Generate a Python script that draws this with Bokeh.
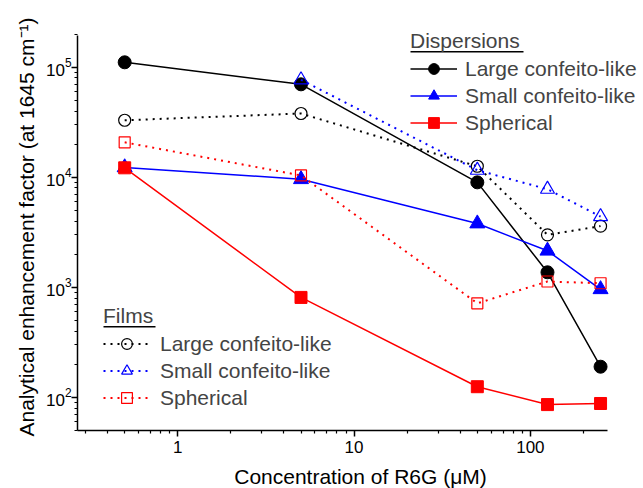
from bokeh.plotting import figure
from bokeh.models import (Legend, LegendItem, BoxAnnotation, FixedTicker,
                          LogTickFormatter, BasicTickFormatter)
from bokeh.embed import file_html
from bokeh.resources import INLINE

# ---- data ----
conc = [0.5, 5, 50, 125, 250]
conc_small_film = [5, 50, 125, 250]

disp_large = [111000, 70000, 9000, 1370, 190]
disp_small = [12300, 9600, 3800, 2150, 960]
disp_spherical = [12200, 810, 125, 86, 88]

film_large = [33000, 38000, 12600, 3000, 3600]
film_small = [77000, 11600, 7800, 4400]
film_spherical = [20800, 10400, 716, 1130, 1090]

x_major = [1, 10, 100]
y_major = [1e2, 1e3, 1e4, 1e5]

FONT = "Liberation Sans"
BLACK, BLUE, RED = "#000000", "#0000FF", "#FF0000"

p = figure(frame_width=566, frame_height=407, x_axis_type="log", y_axis_type="log",
           x_range=(0.27, 438), y_range=(50, 2.5e5),
           output_backend="svg", toolbar_location=None,
           min_border_left=77, min_border_right=0, min_border_top=23,
           min_border_bottom=58)
p.outline_line_color = None
p.xgrid.visible = False
p.ygrid.visible = False
p.background_fill_color = "white"

x_minor = [m * d for d in [0.1, 1, 10, 100] for m in range(2, 10) if m * d <= 275]
y_minor = [m * d for d in [10, 100, 1000, 10000, 100000] for m in range(2, 10)]
p.xaxis.ticker = FixedTicker(ticks=x_major, minor_ticks=x_minor)
p.yaxis.ticker = FixedTicker(ticks=y_major, minor_ticks=y_minor)
p.xaxis.formatter = BasicTickFormatter()
p.yaxis.formatter = LogTickFormatter()
p.xaxis.bounds = (0.27, 275)
p.yaxis.bounds = (50, 1.95e5)

for ax in (p.xaxis, p.yaxis):
    ax.axis_line_width = 1.5
    ax.major_tick_line_width = 1.5
    ax.minor_tick_line_width = 1.2
    ax.major_tick_in = 0
    ax.major_tick_out = 6
    ax.minor_tick_in = 0
    ax.minor_tick_out = 3
    ax.major_label_text_font = FONT
    ax.major_label_text_font_size = "17px"
    ax.major_label_text_color = "black"
    ax.axis_label_text_font = FONT
    ax.axis_label_text_font_size = "21px"
    ax.axis_label_text_font_style = "normal"
    ax.axis_label_text_color = "black"

p.xaxis.axis_label = "Concentration of R6G (\u03bcM)"
p.yaxis.axis_label = "Analytical enhancement factor (at 1645 cm\u207b\u00b9)"
p.xaxis.major_label_standoff = 4
p.yaxis.major_label_standoff = 0
p.xaxis.axis_label_standoff = 9
p.yaxis.axis_label_standoff = 5

# ---- dispersions ----
l1 = p.line(conc, disp_large, line_color=BLACK, line_width=1.5)
m1 = p.scatter(conc, disp_large, marker="circle", size=13, fill_color=BLACK, line_color=BLACK)
l2 = p.line(conc, disp_small, line_color=BLUE, line_width=1.5)
m2 = p.scatter(conc, disp_small, marker="triangle", size=15, fill_color=BLUE, line_color=BLUE)
l3 = p.line(conc, disp_spherical, line_color=RED, line_width=1.5)
m3 = p.scatter(conc, disp_spherical, marker="square", size=12, fill_color=RED, line_color=RED)

# ---- films ----
DOT = "2 5"
l4 = p.line(conc, film_large, line_color=BLACK, line_width=2, line_dash=DOT)
m4 = p.scatter(conc, film_large, marker="circle", size=12, fill_alpha=0,
               line_color=BLACK, line_width=1.2)
l5 = p.line(conc_small_film, film_small, line_color=BLUE, line_width=2, line_dash=DOT)
m5 = p.scatter(conc_small_film, film_small, marker="triangle", size=14, fill_alpha=0,
               line_color=BLUE, line_width=1.2)
l6 = p.line(conc, film_spherical, line_color=RED, line_width=2, line_dash=DOT)
m6 = p.scatter(conc, film_spherical, marker="square", size=11, fill_alpha=0,
               line_color=RED, line_width=1.2)


def make_legend(title, items, loc, gw, standoff):
    lg = Legend(items=items, location=loc, title=title,
                padding=0, margin=0, border_line_color=None,
                background_fill_alpha=0, spacing=0,
                label_text_font=FONT, label_text_font_size="21px",
                title_text_font=FONT, title_text_font_size="21px",
                title_text_font_style="normal", title_standoff=2,
                glyph_width=gw, glyph_height=27, label_height=21,
                label_standoff=standoff)
    return lg


leg1 = make_legend("Dispersions", [
    LegendItem(label="Large confeito-like", renderers=[l1, m1]),
    LegendItem(label="Small confeito-like", renderers=[l2, m2]),
    LegendItem(label="Spherical", renderers=[l3, m3]),
], (333, 294), 47, 8)
leg2 = make_legend("Films", [
    LegendItem(label="Large confeito-like", renderers=[l4, m4]),
    LegendItem(label="Small confeito-like", renderers=[l5, m5]),
    LegendItem(label="Spherical", renderers=[l6, m6]),
], (26, 19), 47, 10)
p.add_layout(leg1)
p.add_layout(leg2)

# title underlines (screen units relative to the frame, y upward)
p.add_layout(BoxAnnotation(left=333, right=446, bottom=378, top=379.5,
                           left_units="screen", right_units="screen",
                           top_units="screen", bottom_units="screen",
                           fill_color="black", fill_alpha=1, line_color=None))
p.add_layout(BoxAnnotation(left=26, right=78, bottom=103, top=104.5,
                           left_units="screen", right_units="screen",
                           top_units="screen", bottom_units="screen",
                           fill_color="black", fill_alpha=1, line_color=None))

open("out.html", "w").write(file_html(p, INLINE))
